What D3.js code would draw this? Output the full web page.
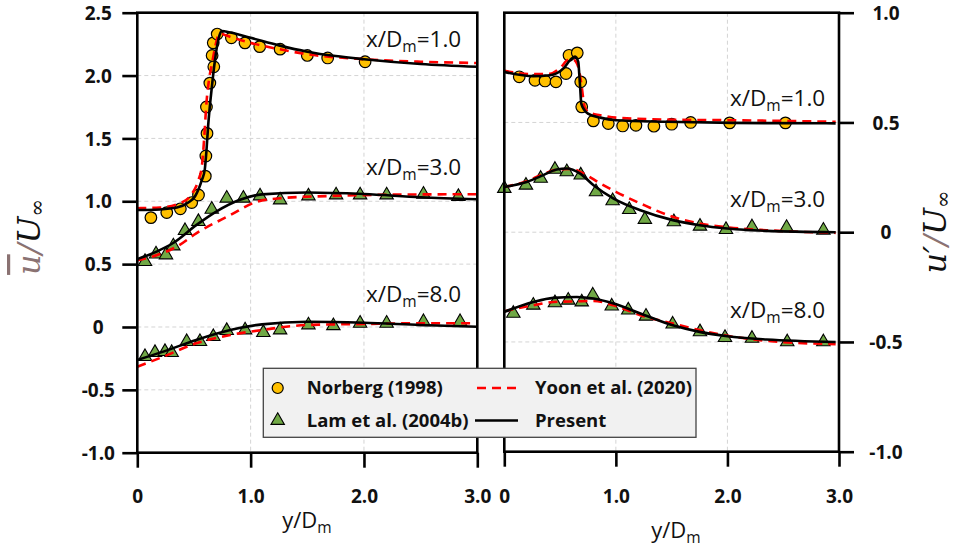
<!DOCTYPE html>
<html><head><meta charset="utf-8">
<script src="https://cdn.jsdelivr.net/npm/d3@7"></script>
<style>
body{margin:0;background:#fff;}
svg{display:block;}
.tick text{font-family:"Open Sans",sans-serif;font-weight:700;font-size:19px;fill:#111;}
</style></head>
<body><svg id="c" width="962" height="548"></svg>
<script>
// ---------- data ----------
const xTicks = [0, 1, 2, 3];
const xTickLabels = ["0", "1.0", "2.0", "3.0"];
const leftTicks = [-1, -0.5, 0, 0.5, 1, 1.5, 2, 2.5];
const leftTickLabels = ["-1.0", "-0.5", "0", "0.5", "1.0", "1.5", "2.0", "2.5"];
const rightTicks = [-1, -0.5, 0, 0.5, 1];
const rightTickLabels = ["-1.0", "-0.5", "0", "0.5", "1.0"];
const stationLabels = ["1.0", "3.0", "8.0"];

// Left panel: mean velocity (plotted, offset) — [y/Dm, value]
const norbergMean1 = [[0.12,0.87],[0.26,0.91],[0.38,0.94],[0.48,0.99],[0.54,1.05],[0.60,1.20],[0.605,1.36],[0.615,1.54],[0.61,1.75],[0.64,1.94],[0.675,2.07],[0.66,2.16],[0.67,2.26],[0.705,2.33],[0.83,2.30],[0.95,2.26],[1.08,2.23],[1.26,2.21],[1.50,2.16],[1.68,2.14],[2.01,2.11]];
const lamMean3 = [[0.068,0.52],[0.165,0.58],[0.253,0.573],[0.318,0.644],[0.421,0.766],[0.539,0.838],[0.657,0.936],[0.789,1.024],[0.936,1.024],[1.083,1.042],[1.26,1.01],[1.51,1.042],[1.754,1.05],[1.966,1.05],[2.20,1.05],[2.525,1.056],[2.833,1.037]];
const lamMean8 = [[0.068,-0.236],[0.156,-0.204],[0.244,-0.196],[0.303,-0.204],[0.436,-0.117],[0.553,-0.117],[0.671,-0.077],[0.789,-0.029],[0.951,-0.024],[1.112,-0.045],[1.26,-0.024],[1.51,0.016],[1.73,0.01],[1.966,0.029],[2.20,0.029],[2.525,0.042],[2.848,0.042]];
const yoonMean1 = [[0,0.945],[0.2,0.95],[0.38,0.985],[0.49,1.07],[0.54,1.17],[0.57,1.28],[0.59,1.5],[0.61,1.78],[0.635,1.98],[0.66,2.1],[0.69,2.24],[0.71,2.31],[0.735,2.335],[0.78,2.32],[1.0,2.26],[1.25,2.21],[1.5,2.17],[2.0,2.13],[2.5,2.11],[3.0,2.10]];
const yoonMean3 = [[0,0.53],[0.2,0.58],[0.35,0.64],[0.52,0.745],[0.82,0.89],[1.05,0.995],[1.26,1.024],[1.7,1.042],[2.3,1.053],[3.0,1.056]];
const yoonMean8 = [[0,-0.316],[0.23,-0.236],[0.52,-0.13],[0.82,-0.064],[1.1,-0.024],[1.5,0.016],[2.0,0.024],[2.5,0.03],[3.0,0.029]];
const presentMean1 = [[0,0.93],[0.2,0.935],[0.35,0.95],[0.45,0.99],[0.51,1.04],[0.57,1.17],[0.595,1.25],[0.61,1.4],[0.625,1.6],[0.645,1.8],[0.665,1.97],[0.685,2.12],[0.705,2.24],[0.725,2.32],[0.745,2.355],[0.78,2.35],[1.0,2.30],[1.25,2.24],[1.5,2.19],[1.75,2.155],[2.0,2.13],[2.5,2.092],[3.0,2.07]];
const presentMean3 = [[0,0.54],[0.17,0.6],[0.32,0.67],[0.52,0.81],[0.7,0.92],[0.9,1.01],[1.1,1.055],[1.5,1.07],[2.0,1.058],[2.5,1.032],[3.0,1.016]];
const presentMean8 = [[0,-0.262],[0.23,-0.196],[0.52,-0.103],[0.82,-0.024],[1.1,0.021],[1.5,0.042],[2.0,0.034],[2.5,0.016],[3.0,0.002]];

// Right panel: fluctuating velocity (plotted, offset)
const norbergRms1 = [[0.134,0.708],[0.275,0.692],[0.365,0.689],[0.463,0.685],[0.553,0.723],[0.58,0.806],[0.654,0.817],[0.685,0.685],[0.694,0.571],[0.798,0.507],[0.932,0.495],[1.061,0.484],[1.18,0.487],[1.341,0.483],[1.50,0.492],[1.67,0.50],[2.02,0.498],[2.52,0.498]];
const lamRms3 = [[0,0.199],[0.194,0.214],[0.326,0.245],[0.454,0.286],[0.56,0.275],[0.685,0.26],[0.822,0.184],[0.971,0.143],[1.12,0.103],[1.26,0.058],[1.52,0.047],[1.754,0.027],[1.987,0.012],[2.22,0.024],[2.53,0.021],[2.86,0.009]];
const lamRms8 = [[0.081,-0.37],[0.26,-0.333],[0.454,-0.322],[0.573,-0.31],[0.694,-0.318],[0.793,-0.287],[0.963,-0.337],[1.111,-0.355],[1.27,-0.383],[1.509,-0.419],[1.754,-0.454],[1.978,-0.48],[2.22,-0.484],[2.536,-0.50],[2.86,-0.50]];
const yoonRms1 = [[0,0.735],[0.26,0.72],[0.41,0.722],[0.51,0.753],[0.57,0.784],[0.62,0.785],[0.663,0.753],[0.69,0.677],[0.72,0.571],[0.76,0.545],[0.86,0.533],[1.0,0.522],[1.45,0.513],[2.05,0.51],[2.97,0.503]];
const yoonRms3 = [[0,0.206],[0.2,0.232],[0.35,0.265],[0.47,0.285],[0.6,0.288],[0.7,0.27],[0.86,0.222],[1.0,0.184],[1.22,0.131],[1.51,0.07],[1.75,0.04],[2.0,0.022],[2.35,0.009],[2.97,-0.003]];
const yoonRms8 = [[0,-0.36],[0.26,-0.333],[0.44,-0.318],[0.65,-0.315],[0.8,-0.313],[0.98,-0.333],[1.22,-0.378],[1.51,-0.416],[1.75,-0.446],[2.0,-0.472],[2.35,-0.495],[2.97,-0.51]];
const presentRms1 = [[0,0.73],[0.26,0.711],[0.41,0.715],[0.53,0.746],[0.59,0.784],[0.634,0.80],[0.663,0.776],[0.672,0.72],[0.68,0.66],[0.69,0.586],[0.72,0.555],[0.75,0.54],[0.86,0.522],[1.0,0.51],[1.45,0.503],[2.05,0.498],[2.97,0.496]];
const presentRms3 = [[0,0.206],[0.2,0.229],[0.35,0.26],[0.47,0.286],[0.56,0.29],[0.68,0.267],[0.8,0.214],[0.98,0.153],[1.22,0.10],[1.51,0.055],[1.75,0.032],[2.0,0.017],[2.35,0.006],[2.97,0.0]];
const presentRms8 = [[0,-0.363],[0.26,-0.318],[0.44,-0.299],[0.65,-0.295],[0.8,-0.302],[0.98,-0.325],[1.22,-0.37],[1.51,-0.424],[1.75,-0.454],[2.0,-0.474],[2.35,-0.489],[2.97,-0.50]];

const legendLabels = ["Norberg (1998)", "Lam et al. (2004b)", "Yoon et al. (2020)", "Present"];

// ---------- drawing ----------
const svg = d3.select("#c");
const FONT = '"Open Sans", sans-serif';
const GOLD = "#FFC000", GREEN = "#70A845", RED = "#FF0000";

const L = {x0:137.3, x1:477.3, y0:12.7, y1:452.7};
const R = {x0:504.3, x1:839, y0:12.7, y1:451.7};

const xL = d3.scaleLinear().domain([0,3]).range([L.x0, L.x1]);
const yL = d3.scaleLinear().domain([-1,2.5]).range([L.y1, L.y0]);
const xR = d3.scaleLinear().domain([0,3]).range([R.x0, R.x1]);
const yR = d3.scaleLinear().domain([-1,1]).range([R.y1, R.y0]);

function grid(xs, ys, P, gx, gy){
  const g = svg.append("g").attr("stroke","#d4d4d4").attr("stroke-width",1).attr("stroke-dasharray","4,3");
  gx.forEach(v => g.append("line").attr("x1",xs(v)).attr("x2",xs(v)).attr("y1",P.y0).attr("y2",P.y1));
  gy.forEach(v => g.append("line").attr("x1",P.x0).attr("x2",P.x1).attr("y1",ys(v)).attr("y2",ys(v)));
}
grid(xL, yL, L, [1,2], [-0.5,0,0.5,1,1.5,2]);
grid(xR, yR, R, [1,2], [-0.5,0,0.5]);

const lineL = d3.line().x(d=>xL(d[0])).y(d=>yL(d[1])).curve(d3.curveMonotoneX);
const lineR = d3.line().x(d=>xR(d[0])).y(d=>yR(d[1])).curve(d3.curveMonotoneX);

function circles(data, xs, ys){
  svg.append("g").selectAll("circle").data(data).join("circle")
    .attr("cx",d=>xs(d[0])).attr("cy",d=>ys(d[1])).attr("r",5.8)
    .attr("fill",GOLD).attr("stroke","#000").attr("stroke-width",1.2);
}
const tri = d3.symbol().type(d3.symbolTriangle).size(78);
function triangles(data, xs, ys){
  svg.append("g").selectAll("path").data(data).join("path")
    .attr("d",tri).attr("transform",d=>`translate(${xs(d[0])},${ys(d[1])})`)
    .attr("fill",GREEN).attr("stroke","#000").attr("stroke-width",1.1);
}
function path(data, gen, dashed){
  svg.append("path").datum(data).attr("d",gen).attr("fill","none")
    .attr("stroke", dashed?RED:"#000").attr("stroke-width", 2.6)
    .attr("stroke-dasharray", dashed?"9,6":null);
}

// markers
circles(norbergMean1, xL, yL); triangles(lamMean3, xL, yL); triangles(lamMean8, xL, yL);
circles(norbergRms1, xR, yR); triangles(lamRms3, xR, yR); triangles(lamRms8, xR, yR);
// CFD lines
[yoonMean1,yoonMean3,yoonMean8].forEach(d=>path(d,lineL,true));
[yoonRms1,yoonRms3,yoonRms8].forEach(d=>path(d,lineR,true));
[presentMean1,presentMean3,presentMean8].forEach(d=>path(d,lineL,false));
[presentRms1,presentRms3,presentRms8].forEach(d=>path(d,lineR,false));

// frames
function frame(P){
  svg.append("rect").attr("x",P.x0).attr("y",P.y0).attr("width",P.x1-P.x0).attr("height",P.y1-P.y0)
    .attr("fill","none").attr("stroke","#000").attr("stroke-width",2.6);
}
frame(L); frame(R);

function styleAxis(g){
  g.select(".domain").remove();
  g.selectAll(".tick line").attr("stroke","#000").attr("stroke-width",2.6);
}
// left y axis
svg.append("g").attr("transform",`translate(${L.x0},0)`)
  .call(d3.axisLeft(yL).tickValues(leftTicks).tickSize(15).tickFormat((d,i)=>leftTickLabels[i]))
  .call(styleAxis)
  .call(g=>g.selectAll(".tick text").attr("text-anchor","middle").attr("x",-39).attr("dy","0.35em"));
// right y axis
svg.append("g").attr("transform",`translate(${R.x1},0)`)
  .call(d3.axisRight(yR).tickValues(rightTicks).tickSize(15).tickFormat((d,i)=>rightTickLabels[i]))
  .call(styleAxis)
  .call(g=>g.selectAll(".tick text").attr("text-anchor","middle").attr("x",47).attr("dy","0.35em"));
// bottom axes
svg.append("g").attr("transform",`translate(0,${L.y1})`)
  .call(d3.axisBottom(xL).tickValues(xTicks).tickSize(15).tickFormat((d,i)=>xTickLabels[i]))
  .call(styleAxis)
  .call(g=>g.selectAll(".tick text").attr("y",44).attr("dy","0.35em"));
svg.append("g").attr("transform",`translate(0,${R.y1})`)
  .call(d3.axisBottom(xR).tickValues(xTicks).tickSize(15).tickFormat((d,i)=>xTickLabels[i]))
  .call(styleAxis)
  .call(g=>g.selectAll(".tick text").attr("y",45).attr("dy","0.35em"));

// station labels
function station(x, y, lab){
  const t = svg.append("text").attr("x",x).attr("y",y).attr("font-family",FONT)
    .attr("font-size",22.5).attr("fill","#111");
  t.append("tspan").text("x/D");
  t.append("tspan").attr("font-size",15.5).attr("dy",5).text("m");
  t.append("tspan").attr("dy",-5).text("="+lab);
}
station(366, 47, stationLabels[0]); station(366, 175, stationLabels[1]); station(366, 302, stationLabels[2]);
station(730, 106, stationLabels[0]); station(730, 207, stationLabels[1]); station(730, 318, stationLabels[2]);

// x titles
function xTitle(cx, y){
  const t = svg.append("text").attr("x",cx).attr("y",y).attr("text-anchor","middle")
    .attr("font-family",FONT).attr("font-size",22).attr("fill","#111");
  t.append("tspan").text("y/D");
  t.append("tspan").attr("font-size",15.5).attr("dy",5).text("m");
}
xTitle(307, 528); xTitle(676, 538);

// y titles
const MATH = '"DejaVu Serif", serif';
const tl = svg.append("text").attr("transform","translate(40,237) rotate(-90)").attr("text-anchor","middle")
  .attr("font-family",MATH).attr("font-style","italic").attr("font-size",32).attr("fill","#111");
tl.append("tspan").attr("fill","#8a7272").attr("text-decoration","overline").text("u");
tl.append("tspan").attr("fill","#8a7272").text("/");
tl.append("tspan").text("U");
tl.append("tspan").attr("font-size",21).attr("dy",4).attr("font-style","normal").text("∞");
const tr = svg.append("text").attr("transform","translate(946,232) rotate(-90)").attr("text-anchor","middle")
  .attr("font-family",MATH).attr("font-style","italic").attr("font-size",32).attr("fill","#111");
tr.append("tspan").text("u′");
tr.append("tspan").attr("fill","#8a7272").text("/");
tr.append("tspan").text("U");
tr.append("tspan").attr("font-size",21).attr("dy",4).attr("font-style","normal").text("∞");

// legend
const lg = svg.append("g");
lg.append("rect").attr("x",263.3).attr("y",368.3).attr("width",432.7).attr("height",69)
  .attr("fill","#f1f1f1").attr("stroke","#444").attr("stroke-width",1.3);
const r1 = 388, r2 = 420.5;
lg.append("circle").attr("cx",277.7).attr("cy",r1).attr("r",5.5).attr("fill",GOLD).attr("stroke","#000").attr("stroke-width",1.2);
lg.append("path").attr("d",tri).attr("transform",`translate(277.7,${r2})`).attr("fill",GREEN).attr("stroke","#000").attr("stroke-width",1.1);
lg.append("line").attr("x1",477).attr("x2",518).attr("y1",r1).attr("y2",r1).attr("stroke",RED).attr("stroke-width",2.6).attr("stroke-dasharray","9,6");
lg.append("line").attr("x1",475).attr("x2",518).attr("y1",r2).attr("y2",r2).attr("stroke","#000").attr("stroke-width",2.6);
const lt = (x,y,s)=>lg.append("text").attr("x",x).attr("y",y).attr("dy","0.35em").attr("font-family",FONT)
  .attr("font-weight",700).attr("font-size",18.5).attr("fill","#111").text(s);
lt(306.7, r1, legendLabels[0]); lt(306.7, r2, legendLabels[1]);
lt(535, r1, legendLabels[2]); lt(535, r2, legendLabels[3]);
</script></body></html>
